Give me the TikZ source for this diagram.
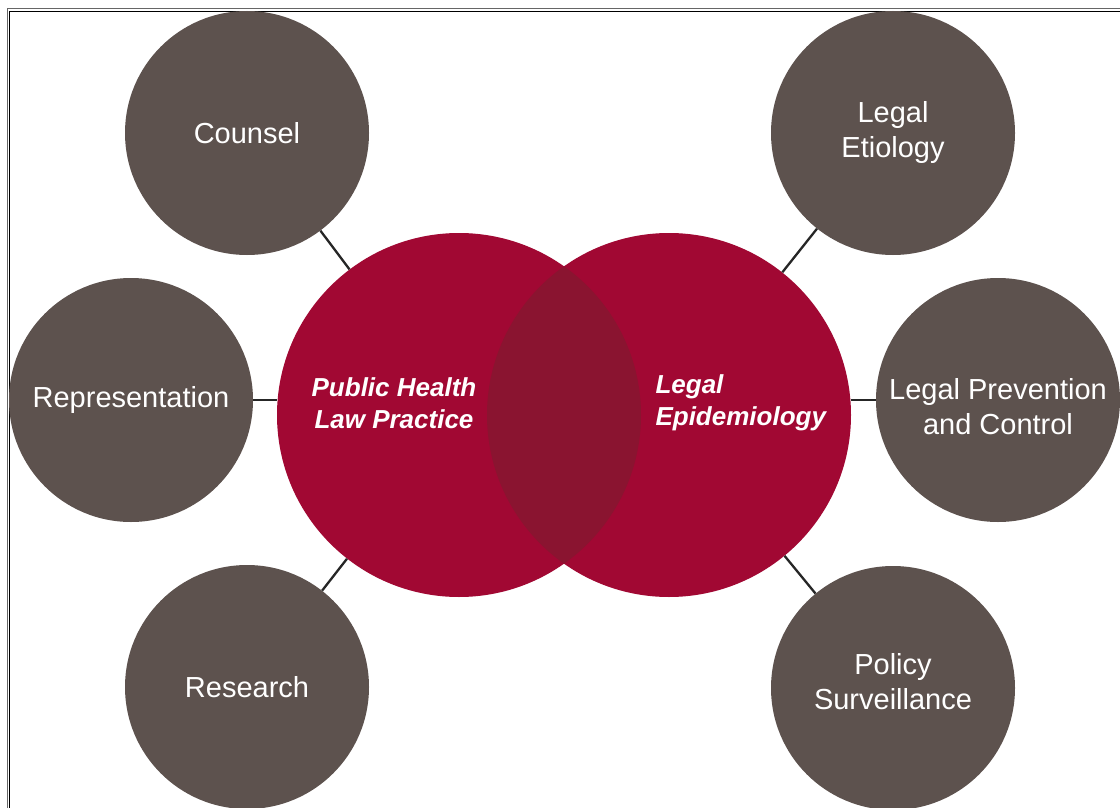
\documentclass[tikz,border=0pt]{standalone}
\usepackage{fontspec}
\setmainfont{Liberation Sans}
\usepackage{xcolor}
\usepackage{tikz}
\usetikzlibrary{positioning}

\definecolor{topicgray}{HTML}{5D524E}
\definecolor{lawred}{HTML}{A10833}
\definecolor{lensred}{HTML}{8A1430}

\begin{document}
\begin{tikzpicture}[x=1pt, y=-1pt,
    topic/.style={circle, fill=topicgray, minimum size=244pt, inner sep=0pt,
        text=white, align=center, font=\fontsize{29}{35}\selectfont},
    topictext/.style={text=white, align=center, font=\fontsize{29}{35}\selectfont},
    field/.style={circle, fill=lawred, minimum size=364pt, inner sep=0pt},
    fieldtext/.style={text=white, font=\fontsize{26}{32}\selectfont\bfseries\itshape},
    link/.style={line width=2.3pt, draw=black!85}]
\useasboundingbox (0,0) rectangle (1120,808);
\fill[white] (0,0) rectangle (1120,808);

% frame
\draw[black!60, line width=1pt] (7,808) -- (7,9) -- (1120,9);
\draw[black, line width=1pt] (9.5,808) -- (9.5,11.5) -- (1120,11.5);

% the two fields
\node[field] (phlp) at (459,415) {};
\node[field] (legepi) at (669,415) {};
\begin{scope}
\clip (459,415) circle (182);
\fill[lensred] (669,415) circle (182);
\end{scope}

\node[fieldtext, align=center] (phlptext) at (394,403) {Public Health\\Law Practice};
\node[fieldtext, align=left, anchor=west] (legepitext) at (652,403) {Legal\\Epidemiology};

% topics
\node[topic] (counsel) at (247,133) {Counsel};
\node[topic] (repr) at (131,400) {Representation};
\node[topic] (research) at (247,687) {Research};
\node[topic] (etiology) at (893,133) {Legal\\Etiology};
\node[topic] (prevention) at (998,400) {};
\node[topictext] (preventiontext) at (998,406.5) {Legal Prevention\\and Control};
\node[topic] (surveillance) at (893,688) {};
\node[topictext] (surveillancetext) at (893,681.5) {Policy\\Surveillance};

% links
\draw[link] (counsel) -- (phlp);
\draw[link] (repr.east) -- (repr.east -| phlp.west);
\draw[link] (research) -- (phlp);
\draw[link] (etiology) -- (legepi);
\draw[link] (prevention.west) -- (prevention.west -| legepi.east);
\draw[link] (surveillance) -- (legepi);

\end{tikzpicture}
\end{document}
